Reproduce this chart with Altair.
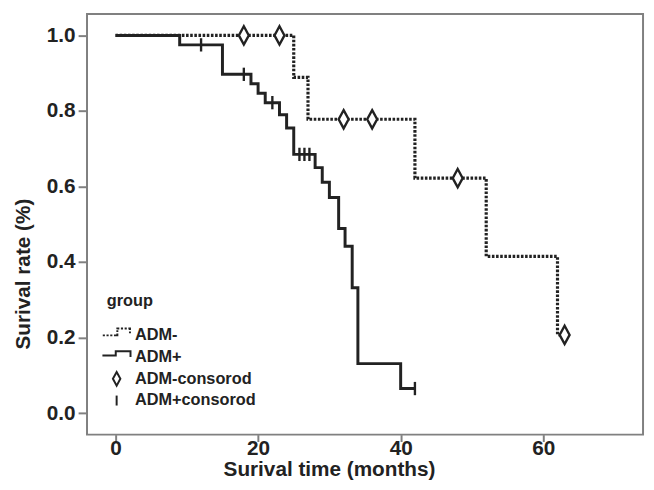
import altair as alt
import pandas as pd

# ---- data ----
# ADM- group (dotted step curve)
minus_t = [0, 25, 27, 42, 52, 62, 63]
minus_s = [1.0, 0.889, 0.778, 0.622, 0.415, 0.207, 0.207]
# ADM+ group (solid step curve)
plus_t = [0, 9, 15, 19, 20, 21, 23, 24, 25, 28, 29, 30, 31.3, 32.2, 33.2, 34, 40, 42]
plus_s = [1.0, 0.975, 0.897, 0.872, 0.847, 0.822, 0.79, 0.755, 0.685, 0.65, 0.611,
          0.571, 0.489, 0.442, 0.332, 0.131, 0.065, 0.065]
# censored observations
minus_cens_t = [18, 23, 32, 36, 48, 63]
minus_cens_s = [1.0, 1.0, 0.778, 0.778, 0.622, 0.207]
plus_cens_t = [12, 18, 22, 25.8, 26.5, 27.2, 42]
plus_cens_s = [0.975, 0.897, 0.822, 0.685, 0.685, 0.685, 0.065]

groups = ["ADM-", "ADM+", "ADM-consorod", "ADM+consorod"]
x_ticks = [0, 20, 40, 60]
y_ticks = [0.0, 0.2, 0.4, 0.6, 0.8, 1.0]

df_minus = pd.DataFrame({"t": minus_t, "s": minus_s})
df_plus = pd.DataFrame({"t": plus_t, "s": plus_s})
df_cens = pd.DataFrame({
    "t": minus_cens_t + plus_cens_t,
    "s": minus_cens_s + plus_cens_s,
    "group": ["ADM-consorod"] * len(minus_cens_t) + ["ADM+consorod"] * len(plus_cens_t),
})
df_diam = df_cens[df_cens["group"] == "ADM-consorod"]

INK = "#222222"
FONT = "Liberation Sans"

x_enc = alt.X("t:Q", scale=alt.Scale(domain=[-4, 74], nice=False, zero=False),
              axis=alt.Axis(values=x_ticks, title="Surival time (months)",
                            tickSize=7, labelPadding=-4,
                            titleX=245, titleY=41, titleBaseline="alphabetic",
                            titleAlign="center"))
y_enc = alt.Y("s:Q", scale=alt.Scale(domain=[-0.057, 1.057], nice=False, zero=False),
              axis=alt.Axis(values=y_ticks, format=".1f", title="Surival rate (%)",
                            tickSize=9, labelPadding=3,
                            titleX=-58, titleY=263, titleBaseline="alphabetic",
                            titleAlign="center", titleAngle=270))

line_minus = alt.Chart(df_minus).mark_line(
    interpolate="step-after", color=INK, strokeWidth=3.2,
    strokeDash=[2.6, 1.6], strokeCap="butt"
).encode(x=x_enc, y=y_enc)

line_plus = alt.Chart(df_plus).mark_line(
    interpolate="step-after", color=INK, strokeWidth=3
).encode(x=x_enc, y=y_enc)

DIAMOND = "M0,-0.77L0.42,0L0,0.77L-0.42,0Z"
EXTENT = "M0,-0.77M0,0.77"   # invisible points that give every symbol the same height
POINT_SIZE = 577             # size of the censor marks in the plot
LEGEND_SIZE = 324            # size of the legend symbols

# white interiors of the open diamonds
diam_fill = alt.Chart(df_diam).mark_point(
    shape=DIAMOND, filled=True, color="white", opacity=1, size=POINT_SIZE
).encode(x=x_enc, y=y_enc)

# dotted step symbol drawn as short dashes, solid step symbol, diamond, tick
dotted_step = ("M-1.56,0L-1.32,0M-1.14,0L-0.9,0M-0.72,0L-0.48,0M-0.3,0L0.08,0L0.08,-0.2"
               "M0.08,-0.38L0.08,-0.58M0.08,-0.7L0.08,-0.77L0.3,-0.77"
               "M0.48,-0.77L0.72,-0.77M0.9,-0.77L1.14,-0.77M1.32,-0.77L1.5,-0.77L1.5,-0.6"
               "M1.5,-0.43L1.5,-0.23")
shape_paths = [
    EXTENT + dotted_step,
    EXTENT + "M-1.6,-0.19L-0.1,-0.19L-0.1,-0.67L1.56,-0.67L1.56,0",
    DIAMOND,
    EXTENT + "M0,-0.56L0,0.56",
]

points = alt.Chart(df_cens).mark_point(
    filled=False, color=INK, strokeWidth=2.4, size=POINT_SIZE, opacity=1
).encode(
    x=x_enc, y=y_enc,
    shape=alt.Shape("group:N", scale=alt.Scale(domain=groups, range=shape_paths),
                    legend=alt.Legend(title="group", orient="none", legendX=20, legendY=283,
                                      padding=0, titlePadding=16, labelOffset=8.5,
                                      rowPadding=0, gridAlign="all", symbolSize=LEGEND_SIZE,
                                      symbolStrokeWidth=2.0, symbolStrokeColor=INK,
                                      symbolOpacity=1)),
)

chart = alt.layer(line_minus, line_plus, diam_fill, points).properties(
    width=563, height=426,
    padding={"left": 80, "top": 3, "right": 3, "bottom": 45},
    autosize=alt.AutoSizeParams(type="none"),
).configure_view(
    stroke="#808080", strokeWidth=2
).configure_axis(
    domain=False, grid=False, ticks=True, tickColor="#808080", tickWidth=2,
    labelFont=FONT, labelFontSize=21, labelFontWeight="bold", labelColor=INK,
    titleFont=FONT, titleFontSize=21, titleFontWeight="bold",
    titleColor=INK
).configure_legend(
    titleFont=FONT, titleFontSize=16.5, titleFontWeight="bold", titleColor=INK,
    labelFont=FONT, labelFontSize=16.5, labelFontWeight="bold", labelColor=INK,
)

chart.save("out.html", embed_options={"renderer": "svg", "actions": False})
